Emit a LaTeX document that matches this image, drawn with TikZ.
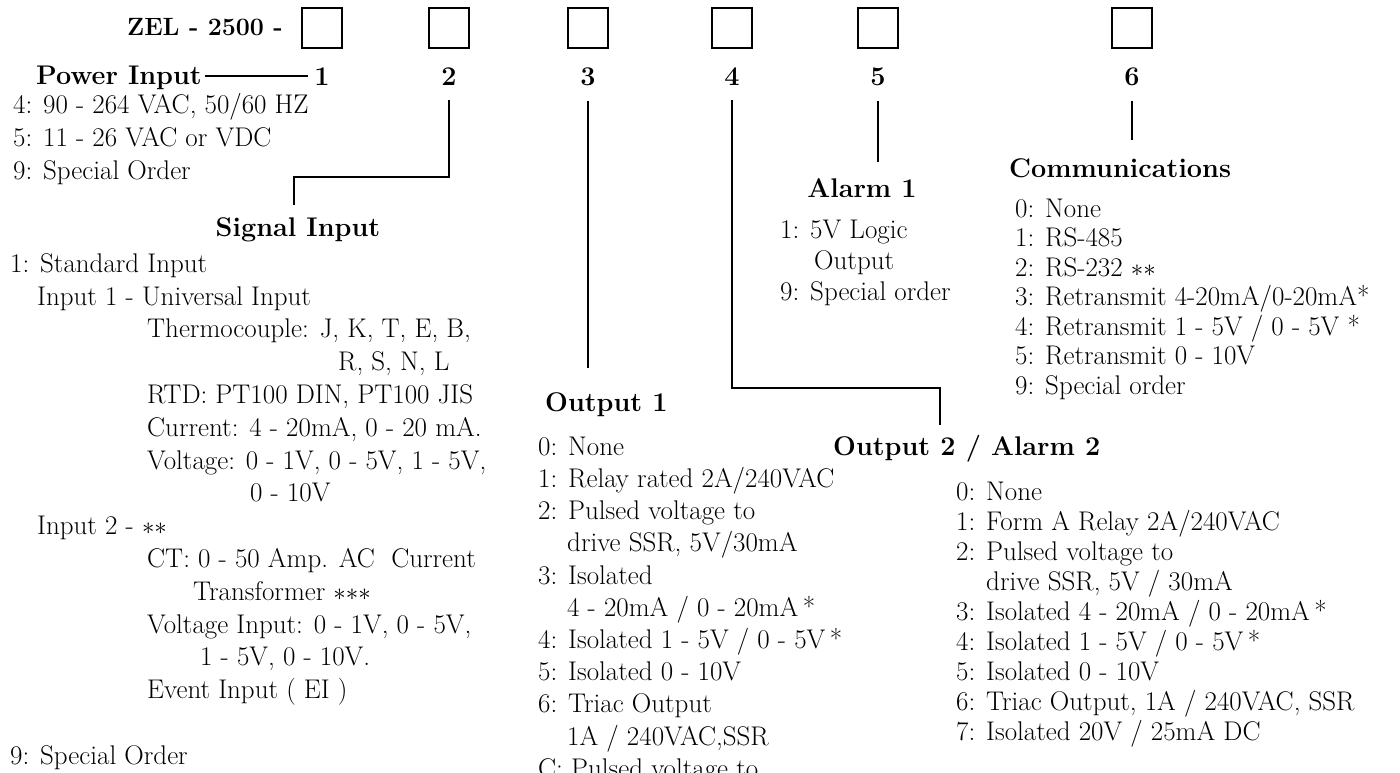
\documentclass[tikz,border=0pt]{standalone}
\usepackage{fontspec}
\newcommand{\lstrut}{\rule{0pt}{20pt}}
\begin{document}
\begin{tikzpicture}[x=1pt,y=-1pt,
  digbox/.style={draw,line width=1.4pt,minimum size=40pt,inner sep=0pt},
  dig/.style={font=\fontsize{27}{30}\selectfont\bfseries,inner sep=0pt},
  head/.style={font=\fontsize{27}{30}\selectfont\bfseries,inner sep=3pt},
  items/.style={font=\fontsize{27}{#1}\selectfont,align=left,anchor=north west,inner sep=0pt},
  items/.default=31,
  wire/.style={line width=1.6pt}]
\useasboundingbox (0,0) rectangle (1400,772);
\node[head,anchor=base east,font=\fontsize{25}{30}\selectfont\bfseries] (title) at (286,35) {ZEL - 2500 -};
\foreach \n/\x in {1/322,2/449,3/588,4/732,5/878,6/1132} {
  \node[digbox] (b\n) at (\x,28) {};
  \node[dig,anchor=base] (d\n) at (\x,85) {\n};
}
% headings
\node[head,anchor=base east] (pin) at (205,84) {Power Input};
\node[head,anchor=base] (sig) at (298,236) {Signal Input};
\node[head,anchor=base west] (out1) at (542,411) {Output 1};
\node[head,anchor=base west] (out2) at (830,455) {Output 2 / Alarm 2};
\node[head,anchor=base] (alm) at (862,197) {Alarm 1};
\node[head,anchor=base west] (com) at (1006,177) {Communications};
% connectors
\coordinate (sigbend) at (294,177);
\coordinate (sigend) at (294,205);
\coordinate (o1end) at (588,368);
\coordinate (o2bend) at (940,388);
\coordinate (o2end) at (940,425);
\coordinate (almend) at (878,162);
\coordinate (comend) at (1132,140);
\draw[wire,shorten >=6pt] (d1.west -| pin.east) -- (d1.west);
\draw[wire] ([yshift=-15pt]d2.south) |- (sigbend) -- (sigend);
\draw[wire] ([yshift=-15pt]d3.south) -- (o1end);
\draw[wire] ([yshift=-15pt]d4.south) |- (o2bend) -- (o2end);
\draw[wire] ([yshift=-15pt]d5.south) -- (almend);
\draw[wire] ([yshift=-15pt]d6.south) -- (comend);
% option lists
\node[items=33] (pwr) at (13,93) {\lstrut 4: 90 - 264 VAC, 50/60 HZ\\
  5: 11 - 26 VAC or VDC\\
  9: Special Order};
\node[items=32.8] (sigl) at (10,252) {\lstrut 1: Standard Input\\
  \hspace*{27pt}Input 1 - Universal Input\\
  \hspace*{137pt}Thermocouple: J, K, T, E, B,\\
  \hspace*{328pt}R, S, N, L\\
  \hspace*{137pt}RTD: PT100 DIN, PT100 JIS\\
  \hspace*{137pt}Current: 4 - 20mA, 0 - 20 mA.\\
  \hspace*{137pt}Voltage: 0 - 1V, 0 - 5V, 1 - 5V,\\
  \hspace*{240pt}0 - 10V\\
  \hspace*{27pt}Input 2 - ${\ast}{\ast}$\\
  \hspace*{137pt}CT: 0 - 50 Amp. AC\ \ Current\\
  \hspace*{183pt}Transformer ${\ast}{\ast}{\ast}$\\
  \hspace*{137pt}Voltage Input: 0 - 1V, 0 - 5V,\\
  \hspace*{190pt}1 - 5V, 0 - 10V.\\
  \hspace*{137pt}Event Input ( EI )\\
  \mbox{}\\
  9: Special Order};
\node[items=31] (alml) at (780,218) {\lstrut 1: 5V Logic\\
  \hspace*{34pt}Output\\
  9: Special order};
\node[items=29.5] (coml) at (1015,197) {\lstrut 0: None\\
  1: RS-485\\
  2: RS-232 ${\ast}{\ast}$\\
  3: Retransmit 4-20mA/0-20mA*\\
  4: Retransmit 1 - 5V / 0 - 5V *\\
  5: Retransmit 0 - 10V\\
  9: Special order};
\node[items=32.2] (out1l) at (538,435) {\lstrut 0: None\\
  1: Relay rated 2A/240VAC\\
  2: Pulsed voltage to\\
  \hspace*{29pt}drive SSR, 5V/30mA\\
  3: Isolated\\
  \hspace*{29pt}4 - 20mA / 0 - 20mA\,*\\
  4: Isolated 1 - 5V / 0 - 5V\,*\\
  5: Isolated 0 - 10V\\
  6: Triac Output\\
  \hspace*{29pt}1A / 240VAC,SSR\\
  C: Pulsed voltage to};
\node[items=30] (out2l) at (956,480) {\lstrut 0: None\\
  1: Form A Relay 2A/240VAC\\
  2: Pulsed voltage to\\
  \hspace*{30pt}drive SSR, 5V / 30mA\\
  3: Isolated 4 - 20mA / 0 - 20mA\,*\\
  4: Isolated 1 - 5V / 0 - 5V\,*\\
  5: Isolated 0 - 10V\\
  6: Triac Output, 1A / 240VAC, SSR\\
  7: Isolated 20V / 25mA DC};
\end{tikzpicture}
\end{document}
